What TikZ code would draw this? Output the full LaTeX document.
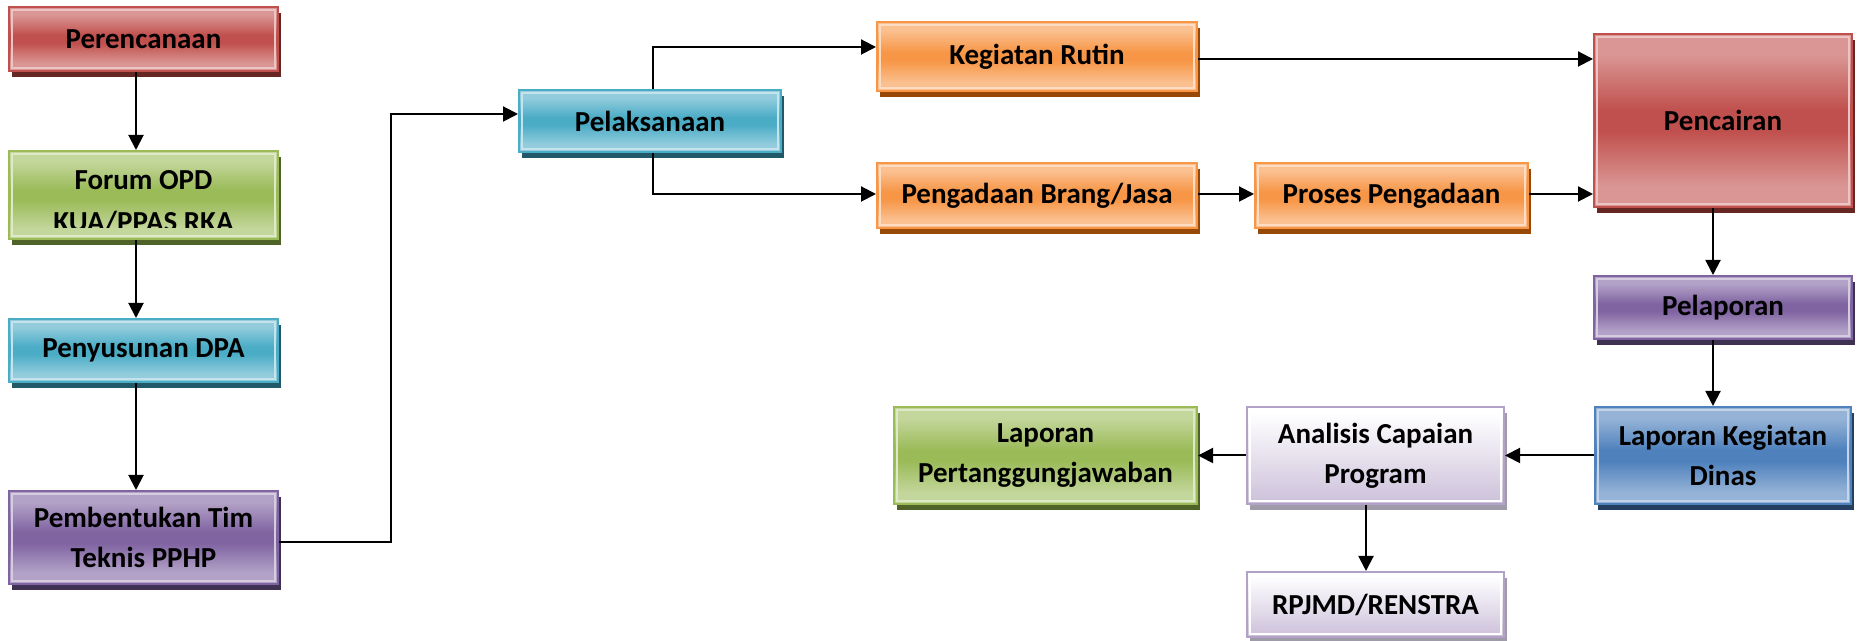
\documentclass[tikz,border=0pt]{standalone}
\usepackage{fontspec}
\setmainfont{Carlito}
\usetikzlibrary{arrows.meta,shadows,calc}

% theme colours: B = base, L = light, S = shadow
\definecolor{redB}{HTML}{C0504D}\definecolor{redL}{HTML}{DA9694}\definecolor{redS}{HTML}{652624}
\definecolor{grnB}{HTML}{9BBB59}\definecolor{grnL}{HTML}{C3D69B}\definecolor{grnS}{HTML}{4F6228}
\definecolor{aquB}{HTML}{4BACC6}\definecolor{aquL}{HTML}{93CDDD}\definecolor{aquS}{HTML}{215968}
\definecolor{purB}{HTML}{8064A2}\definecolor{purL}{HTML}{B3A2C7}\definecolor{purS}{HTML}{3F3151}
\definecolor{orgB}{HTML}{F79646}\definecolor{orgL}{HTML}{FAC090}\definecolor{orgS}{HTML}{984807}
\definecolor{bluB}{HTML}{4F81BD}\definecolor{bluL}{HTML}{95B3D7}\definecolor{bluS}{HTML}{243F60}
\definecolor{lavB}{HTML}{B3A2C7}\definecolor{lavL}{HTML}{FFFFFF}\definecolor{lavS}{HTML}{A09BA8}
\definecolor{lavD}{HTML}{CCC0DA}

% light - dark - light glossy band
\newcommand\glossy[3]{\pgfdeclareverticalshading{gl#1}{100bp}{%
  color(0bp)=(#2); color(25bp)=(#2); color(31bp)=(#2); color(47bp)=(#3);
  color(53bp)=(#3); color(69bp)=(#2); color(75bp)=(#2); color(100bp)=(#2)}}
\glossy{red}{redL}{redB}
\glossy{grn}{grnL}{grnB}
\glossy{aqu}{aquL}{aquB}
\glossy{pur}{purL}{purB}
\glossy{org}{orgL}{orgB}
\glossy{blu}{bluL}{bluB}
% white top fading into lavender
\pgfdeclareverticalshading{gllav}{100bp}{%
  color(0bp)=(lavD); color(25bp)=(lavD); color(72bp)=(white); color(100bp)=(white)}

\tikzset{
  lbl/.style={font=\bfseries\fontsize{14.5}{20}\selectfont, text=black, align=center},
  fbox/.style={rectangle, inner sep=0pt, shade, shading=gl#1, draw=#1B, line width=1pt,
    general shadow={fill=#1S, shadow xshift=1.5pt, shadow yshift=-3pt},
    path picture={\draw[#1L!55!white, line width=0.9pt]
      ([shift={(1.4pt,1.4pt)}]path picture bounding box.south west) rectangle
      ([shift={(-1.4pt,-1.4pt)}]path picture bounding box.north east);},
    lbl},
  arr/.style={draw=black, line width=1pt, -{Triangle[length=7.5pt,width=7.5pt]}},
  link/.style={draw=black, line width=1pt},
}

\begin{document}
\begin{tikzpicture}[x=0.5pt,y=0.5pt]
\useasboundingbox (0,0) rectangle (1859,641);

% left column
\node[fbox=red, minimum width=134.5pt, minimum height=32pt]   (pere)  at (143.5,602)   {Perencanaan};
\node[fbox=grn, minimum width=134.5pt, minimum height=44pt]   (forum) at (143.5,446)   {};
\node[fbox=aqu, minimum width=134.5pt, minimum height=31.5pt] (penyu) at (143.5,290.5) {Penyusunan DPA};
\node[fbox=pur, minimum width=134.5pt, minimum height=46.5pt] (pemb)  at (143.5,103.5) {Pembentukan Tim\\Teknis PPHP};

% the second line of this label runs past the bottom of its box
\begin{scope}
  \clip (9,413) rectangle (278,490);
  \node[lbl, anchor=base] (forumA) at (143.5,451) {Forum OPD};
  \node[lbl, anchor=base] (forumB) at (143.5,409) {KUA/PPAS RKA};
\end{scope}

% execution
\node[fbox=aqu, minimum width=131pt, minimum height=31pt]     (pelak)   at (650,520)     {Pelaksanaan};
\node[fbox=org, minimum width=160pt, minimum height=34.5pt]   (kegr)    at (1037,584.5)  {Kegiatan Rutin};
\node[fbox=org, minimum width=160pt, minimum height=32.5pt]   (pengb)   at (1037,445.5)  {Pengadaan Brang/Jasa};
\node[fbox=org, minimum width=136.5pt, minimum height=32.5pt] (proses)  at (1391.5,445.5){Proses Pengadaan};
\node[fbox=red, minimum width=129pt, minimum height=86.5pt]   (pencair) at (1723,520.5)  {Pencairan};
\node[fbox=pur, minimum width=129pt, minimum height=31.5pt]   (pelap)   at (1723,333.5)  {Pelaporan};

% reporting
\node[fbox=blu, minimum width=128pt, minimum height=48.5pt]   (lapk)  at (1723,185.5)   {Laporan Kegiatan\\Dinas};
\node[fbox=lav, minimum width=128.5pt, minimum height=48.5pt] (anal)  at (1375.5,185.5) {Analisis Capaian\\Program};
\node[fbox=grn, minimum width=151.5pt, minimum height=48.5pt] (laptj) at (1045.5,185.5) {Laporan\\Pertanggungjawaban};
\node[fbox=lav, minimum width=128.5pt, minimum height=32.5pt] (rpjmd) at (1375.5,36.5)  {RPJMD/RENSTRA};

% routing points
\coordinate (vL) at (136,0);
\coordinate (vR) at (1713,0);
\coordinate (vA) at (1366,0);
\coordinate (d1) at (391,99);
\coordinate (d2) at (391,527);
\coordinate (b1) at (653,594);
\coordinate (b2) at (653,447);
\coordinate (h1) at (0,582);
\coordinate (h2) at (0,447);

% connectors
\draw[arr] (pere.south -| vL)  -- (forum.north -| vL);
\draw[arr] (forum.south -| vL) -- (penyu.north -| vL);
\draw[arr] (penyu.south -| vL) -- (pemb.north -| vL);
\draw[arr] (pemb.east |- d1) -- (d1) -- (d2) -- (pelak.west |- d2);
\draw[arr] (pelak.north -| b1) -- (b1) -- (kegr.west |- b1);
\draw[arr] (pelak.south -| b2) -- (b2) -- (pengb.west |- b2);
\draw[arr] (kegr.east |- h1) -- (pencair.west |- h1);
\draw[arr] (pengb.east |- h2) -- (proses.west |- h2);
\draw[arr] (proses.east |- h2) -- (pencair.west |- h2);
\draw[arr] (pencair.south -| vR) -- (pelap.north -| vR);
\draw[arr] (pelap.south -| vR) -- (lapk.north -| vR);
\draw[arr] (lapk.west) -- (anal.east);
\draw[arr] (anal.west) -- (laptj.east);
\draw[arr] (anal.south -| vA) -- (rpjmd.north -| vA);
\end{tikzpicture}
\end{document}
